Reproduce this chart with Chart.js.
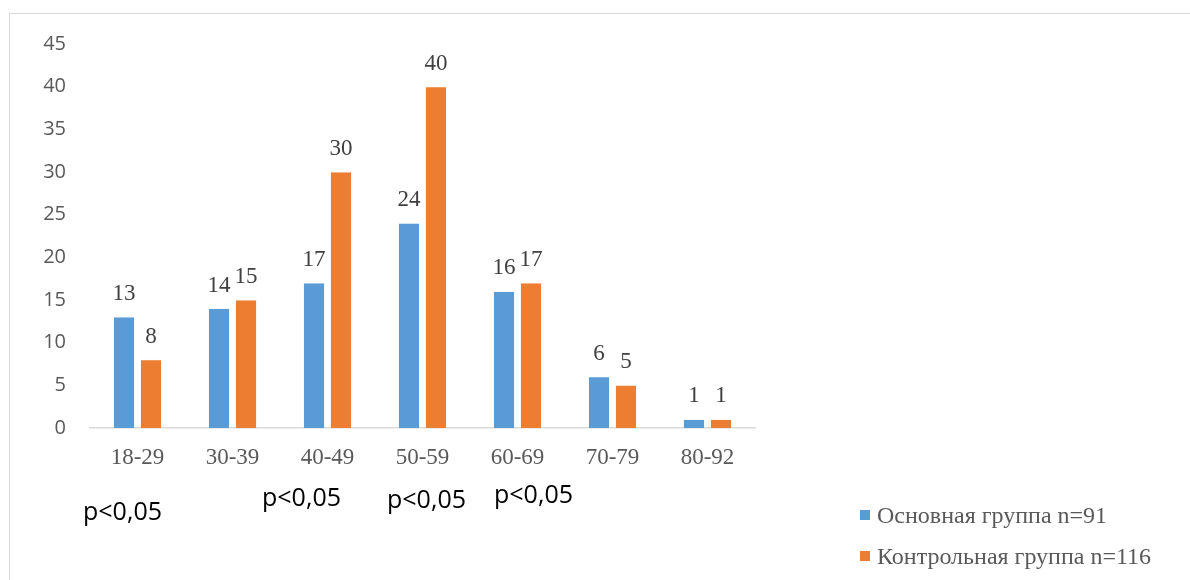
<!DOCTYPE html>
<html><head><meta charset="utf-8">
<script src="https://cdn.jsdelivr.net/npm/chart.js@4/dist/chart.umd.min.js"></script>
<style>
html,body{margin:0;padding:0;background:#fff;}
#wrap{position:relative;width:1190px;height:580px;overflow:hidden;}
#frame{position:absolute;left:9px;top:13px;width:1300px;height:700px;border-left:1.5px solid #d9d9d9;border-top:1.5px solid #d9d9d9;}
canvas{position:absolute;left:0;top:0;}
</style></head>
<body><div id="wrap"><div id="frame"></div><canvas id="c" width="1190" height="580"></canvas></div>
<script>
const categories = ["18-29","30-39","40-49","50-59","60-69","70-79","80-92"];
const mainGroup = [13,14,17,24,16,6,1];
const controlGroup = [8,15,30,40,17,5,1];
const seriesNames = ["Основная группа n=91","Контрольная группа n=116"];
const pLabels = ["p<0,05","","p<0,05","p<0,05","p<0,05","",""];
const pBaselines = [520,0,506,508,503,0,0];
const pShift = [-15,0,-26,4,16,0,0];

const extras = {
  id:'extras',
  afterDatasetsDraw(chart){
    const ctx = chart.ctx;
    ctx.save();
    ctx.font = '23px "Liberation Serif", "Times New Roman", serif';
    ctx.fillStyle = '#404040';
    ctx.textAlign = 'center';
    ctx.textBaseline = 'alphabetic';
    chart.data.datasets.forEach((ds,i)=>{
      chart.getDatasetMeta(i).data.forEach((bar,j)=>{
        ctx.fillText(String(ds.data[j]), bar.x, bar.y - 17);
      });
    });
    // p-values
    const xs = chart.scales.x;
    ctx.font = '25px "Open Sans", sans-serif';
    ctx.fillStyle = '#000';
    ctx.textAlign = 'center';
    pLabels.forEach((t,i)=>{
      if(!t) return;
      ctx.fillText(t, xs.getPixelForValue(i) + pShift[i], pBaselines[i]);
    });
    // legend
    const colors = ['#5B9BD5','#ED7D31'];
    ctx.font = '24px "Liberation Serif", "Times New Roman", serif';
    ctx.textAlign = 'left';
    seriesNames.forEach((n,i)=>{
      const by = 523 + i*41;
      ctx.fillStyle = colors[i];
      ctx.fillRect(860, by-13, 10, 10);
      ctx.fillStyle = '#595959';
      ctx.fillText(n, 877, by);
    });
    ctx.restore();
  }
};

new Chart(document.getElementById('c'), {
  type:'bar',
  data:{
    labels: categories,
    datasets:[
      {label:seriesNames[0], data:mainGroup, backgroundColor:'#5B9BD5', borderColor:'#dbe8f5', borderWidth:0.5, categoryPercentage:0.568, barPercentage:0.78},
      {label:seriesNames[1], data:controlGroup, backgroundColor:'#ED7D31', borderColor:'#fbe1cf', borderWidth:0.5, categoryPercentage:0.568, barPercentage:0.78}
    ]
  },
  options:{
    responsive:false,
    animation:false,
    devicePixelRatio:1,
    layout:{padding:{left:0,right:435,top:44,bottom:0}},
    plugins:{legend:{display:false}, tooltip:{enabled:false}},
    scales:{
      x:{
        grid:{display:false, drawTicks:false},
        border:{display:true, color:'#d9d9d9', width:1.5},
        ticks:{color:'#595959', font:{family:'"Liberation Serif", "Times New Roman", serif', size:23}, padding:16},
        afterFit(s){ s.height = 152; }
      },
      y:{
        min:0, max:45,
        grid:{display:false, drawTicks:false},
        border:{display:false},
        ticks:{stepSize:5, color:'#595959', font:{family:'"Open Sans", sans-serif', size:20}, padding:24},
        afterFit(s){ s.width = 90; }
      }
    }
  },
  plugins:[extras]
});
</script></body></html>
